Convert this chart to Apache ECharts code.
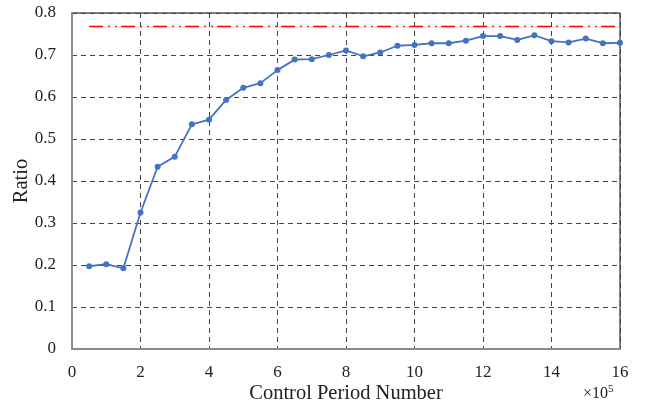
<!DOCTYPE html>
<html>
<head>
<meta charset="utf-8">
<script src="https://cdn.jsdelivr.net/npm/echarts@6/dist/echarts.min.js"></script>
<style>
  html, body { margin: 0; padding: 0; background: #fff; }
  #chart { width: 646px; height: 406px; }
</style>
</head>
<body>
<div id="chart"></div>
<script>
// control period number (x 10^5)
var periods = [0.5, 1, 1.5, 2, 2.5, 3, 3.5, 4, 4.5, 5, 5.5, 6, 6.5, 7, 7.5, 8,
               8.5, 9, 9.5, 10, 10.5, 11, 11.5, 12, 12.5, 13, 13.5, 14, 14.5, 15, 15.5, 16];
var ratios = [0.197, 0.202, 0.192, 0.325, 0.434, 0.458, 0.535, 0.546, 0.593, 0.622, 0.633, 0.664,
              0.689, 0.690, 0.700, 0.711, 0.697, 0.706, 0.722, 0.724, 0.728, 0.728, 0.734, 0.745,
              0.745, 0.736, 0.747, 0.733, 0.730, 0.739, 0.728, 0.729];
var refRatio = 0.768;

var font = '"Liberation Serif", "Times New Roman", serif';

var chart = echarts.init(document.getElementById('chart'));
var option = {
  animation: false,
  backgroundColor: '#fff',
  textStyle: { fontFamily: font },
  grid: {
    left: 72,
    right: 26,
    top: 13,
    bottom: 57,
    outerBoundsMode: 'none',
    containLabel: false,
    show: true,
    borderColor: '#000',
    borderWidth: 1
  },
  title: {
    text: '{a|×10}{b|5}',
    left: 578,
    top: 379,
    textStyle: {
      fontWeight: 'normal',
      rich: {
        a: { fontFamily: font, fontSize: 16, color: '#222', fontWeight: 'normal' },
        b: { fontFamily: font, fontSize: 11, color: '#222', fontWeight: 'normal', verticalAlign: 'top', padding: [0, 0, 8, 0] }
      }
    }
  },
  xAxis: {
    type: 'value',
    min: 0,
    max: 16,
    interval: 2,
    name: 'Control Period Number',
    nameLocation: 'middle',
    nameGap: 34,
    nameMoveOverlap: false,
    nameTextStyle: { fontFamily: font, fontSize: 20.5, color: '#222' },
    axisLine: { lineStyle: { color: '#8c8c8c', width: 2 } },
    axisTick: { show: false },
    axisLabel: { fontFamily: font, fontSize: 17, color: '#222', margin: 15 },
    splitLine: { lineStyle: { color: '#444', type: [5, 4], width: 1 } }
  },
  yAxis: {
    type: 'value',
    min: 0,
    max: 0.8,
    interval: 0.1,
    name: 'Ratio',
    nameLocation: 'middle',
    nameGap: 40,
    nameMoveOverlap: false,
    nameTextStyle: { fontFamily: font, fontSize: 20.5, color: '#222' },
    axisLine: { show: true, lineStyle: { color: '#8c8c8c', width: 2 } },
    axisTick: { show: false },
    axisLabel: { fontFamily: font, fontSize: 17, color: '#222', margin: 16 },
    splitLine: { lineStyle: { color: '#444', type: [5, 4], width: 1 } }
  },
  series: [
    {
      type: 'line',
      data: periods.map(function (p, i) { return [p, ratios[i]]; }),
      symbol: 'circle',
      symbolSize: 6,
      lineStyle: { color: '#4472c4', width: 1.8 },
      itemStyle: { color: '#4472c4' },
      z: 3
    },
    {
      type: 'line',
      data: [[periods[0], refRatio], [periods[periods.length - 1], refRatio]],
      symbol: 'none',
      lineStyle: { color: '#ff0000', width: 1.5, type: [14, 5, 2, 5, 2, 4] },
      z: 2
    }
  ]
};
chart.setOption(option);
</script>
</body>
</html>
